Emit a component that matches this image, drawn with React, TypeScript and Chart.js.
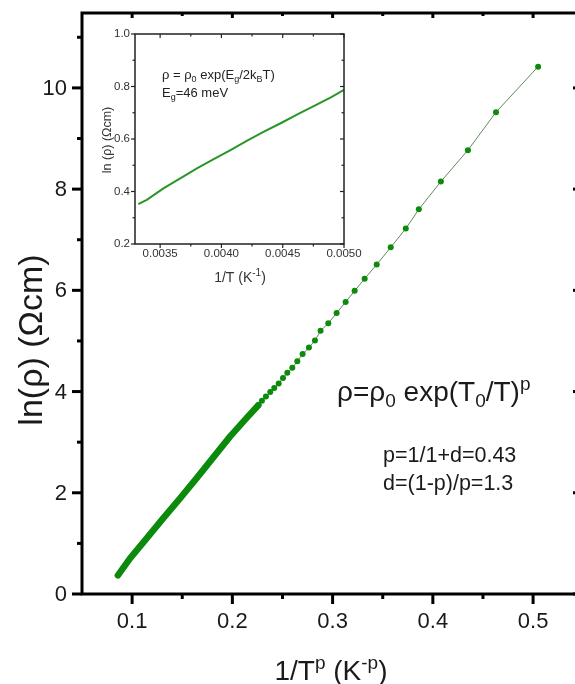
import React, { useEffect, useRef } from "react";
import { Chart, registerables } from "chart.js";
Chart.register(...registerables);

// ---------------- data: main plot ----------------
const xMajorTicks = [0.1, 0.2, 0.3, 0.4, 0.5];
const xMinorTicks = [0.15, 0.25, 0.35, 0.45];
const yMajorTicks = [0, 2, 4, 6, 8, 10];
const yMinorTicks = [1, 3, 5, 7, 9, 11];

// dense (overlapping markers) part of the curve
const denseX = [0.0858, 0.0979, 0.1145, 0.1311, 0.1478, 0.1644, 0.181, 0.1976, 0.2143, 0.2259];
const denseY = [0.37, 0.705, 1.1, 1.5, 1.89, 2.29, 2.7, 3.11, 3.48, 3.73];

// separated markers
const sparseX = [
  0.2259, 0.2295, 0.2335, 0.2378, 0.2418, 0.2462, 0.2505, 0.2548, 0.2598, 0.2648,
  0.2701, 0.2764, 0.2824, 0.288, 0.2957, 0.304, 0.313, 0.322, 0.332, 0.344,
  0.358, 0.373, 0.386, 0.408, 0.435, 0.463, 0.505,
];
const sparseY = [
  3.73, 3.82, 3.9, 3.99, 4.07, 4.16, 4.27, 4.37, 4.47, 4.6,
  4.74, 4.87, 5.01, 5.2, 5.35, 5.55, 5.77, 5.99, 6.23, 6.51,
  6.85, 7.22, 7.6, 8.15, 8.77, 9.52, 10.42,
];

// ---------------- data: inset ----------------
const insetX = [
  0.003322, 0.003391, 0.003527, 0.003664, 0.0038, 0.003937, 0.004074,
  0.00421, 0.004347, 0.004483, 0.00462, 0.004757, 0.004893, 0.005,
];
const insetY = [0.352, 0.368, 0.412, 0.45, 0.488, 0.523, 0.558, 0.594, 0.628, 0.66, 0.694, 0.726, 0.759, 0.787];
const insetXMajor = [0.0035, 0.004, 0.0045, 0.005];
const insetXMinor = [0.00375, 0.00425, 0.00475];
const insetYMajor = [0.2, 0.4, 0.6, 0.8, 1.0];
const insetYMinor = [0.3, 0.5, 0.7, 0.9];

const FONT = '"Liberation Sans", Arial, Helvetica, sans-serif';
const TEXT = "#1a1a1a";
const GREEN = "#0b8a0b";

type Seg = { t: string; s?: "sub" | "sup" };

function segFont(size: number, s?: string) {
  return `${s ? Math.round(size * 0.68) : size}px ${FONT}`;
}
function richWidth(ctx: CanvasRenderingContext2D, segs: Seg[], size: number) {
  let w = 0;
  for (const g of segs) {
    ctx.font = segFont(size, g.s);
    w += ctx.measureText(g.t).width;
  }
  return w;
}
function drawRich(
  ctx: CanvasRenderingContext2D,
  segs: Seg[],
  x: number,
  y: number,
  size: number,
  align: "left" | "center" = "left"
) {
  let cx = align === "center" ? x - richWidth(ctx, segs, size) / 2 : x;
  ctx.textAlign = "left";
  ctx.textBaseline = "alphabetic";
  for (const g of segs) {
    ctx.font = segFont(size, g.s);
    const dy = g.s === "sub" ? size * 0.22 : g.s === "sup" ? -size * 0.4 : 0;
    ctx.fillText(g.t, cx, y + dy);
    cx += ctx.measureText(g.t).width;
  }
}

const mainFrame = {
  id: "mainFrame",
  afterDraw(chart: any) {
    const { ctx, chartArea, scales } = chart;
    const { left, right, top, bottom } = chartArea;
    const sx = scales.x, sy = scales.y;
    ctx.save();
    ctx.strokeStyle = "#000";
    ctx.lineWidth = 3;
    ctx.strokeRect(left, top, right - left, bottom - top);
    ctx.lineCap = "butt";
    const line = (x1: number, y1: number, x2: number, y2: number) => {
      ctx.beginPath();
      ctx.moveTo(x1, y1);
      ctx.lineTo(x2, y2);
      ctx.stroke();
    };
    ctx.lineWidth = 3;
    for (const v of xMajorTicks) {
      const px = sx.getPixelForValue(v);
      line(px, bottom, px, bottom + 10);
      line(px, top, px, top + 5);
    }
    for (const v of xMinorTicks) {
      const px = sx.getPixelForValue(v);
      line(px, bottom, px, bottom + 5);
      line(px, top, px, top + 3);
    }
    for (const v of yMajorTicks) {
      const py = sy.getPixelForValue(v);
      line(left - 10, py, left, py);
      line(right - 6, py, right, py);
    }
    for (const v of yMinorTicks) {
      const py = sy.getPixelForValue(v);
      line(left - 5, py, left, py);
      line(right - 3, py, right, py);
    }
    // tick labels
    ctx.fillStyle = TEXT;
    ctx.font = `22px ${FONT}`;
    ctx.textAlign = "center";
    ctx.textBaseline = "middle";
    for (const v of xMajorTicks) {
      ctx.fillText(v.toFixed(1), sx.getPixelForValue(v), 622);
    }
    ctx.textAlign = "right";
    for (const v of yMajorTicks) {
      ctx.fillText(String(v), 67, sy.getPixelForValue(v) + 1);
    }
    // axis titles
    ctx.save();
    ctx.translate(42, 340);
    ctx.rotate(-Math.PI / 2);
    ctx.font = `34px ${FONT}`;
    ctx.textAlign = "center";
    ctx.textBaseline = "alphabetic";
    ctx.fillText("ln(\u03c1) (\u03a9cm)", 0, 0);
    ctx.restore();
    drawRich(
      ctx,
      [{ t: "1/T" }, { t: "p", s: "sup" }, { t: " (K" }, { t: "-p", s: "sup" }, { t: ")" }],
      331,
      680,
      28,
      "center"
    );
    // annotations
    drawRich(
      ctx,
      [
        { t: "\u03c1=\u03c1" },
        { t: "0", s: "sub" },
        { t: " exp(T" },
        { t: "0", s: "sub" },
        { t: "/T)" },
        { t: "p", s: "sup" },
      ],
      337,
      401,
      28
    );
    drawRich(ctx, [{ t: "p=1/1+d=0.43" }], 383, 462, 21.5);
    drawRich(ctx, [{ t: "d=(1-p)/p=1.3" }], 383, 490, 21.5);
    ctx.restore();
  },
};

const insetFrame = {
  id: "insetFrame",
  afterDraw(chart: any) {
    const { ctx, chartArea, scales } = chart;
    const { left, right, top, bottom } = chartArea;
    const sx = scales.x, sy = scales.y;
    ctx.save();
    ctx.strokeStyle = "#222";
    ctx.lineWidth = 1.5;
    ctx.strokeRect(left, top, right - left, bottom - top);
    const line = (x1: number, y1: number, x2: number, y2: number) => {
      ctx.beginPath();
      ctx.moveTo(x1, y1);
      ctx.lineTo(x2, y2);
      ctx.stroke();
    };
    ctx.lineWidth = 1.2;
    for (const v of insetXMajor) {
      const px = sx.getPixelForValue(v);
      line(px, bottom, px, bottom + 4);
      line(px, top, px, top + 4);
    }
    for (const v of insetXMinor) {
      const px = sx.getPixelForValue(v);
      line(px, bottom, px, bottom + 2.5);
      line(px, top, px, top + 2.5);
    }
    for (const v of insetYMajor) {
      const py = sy.getPixelForValue(v);
      line(left - 4, py, left, py);
      line(right - 4, py, right, py);
    }
    for (const v of insetYMinor) {
      const py = sy.getPixelForValue(v);
      line(left - 2.5, py, left, py);
      line(right - 2.5, py, right, py);
    }
    ctx.fillStyle = "#333";
    ctx.font = `11.5px ${FONT}`;
    ctx.textAlign = "center";
    ctx.textBaseline = "middle";
    for (const v of insetXMajor) {
      ctx.fillText(v.toFixed(4), sx.getPixelForValue(v), 254);
    }
    ctx.textAlign = "right";
    for (const v of insetYMajor) {
      ctx.fillText(v.toFixed(1), left - 5, sy.getPixelForValue(v));
    }
    ctx.save();
    ctx.translate(111, 140);
    ctx.rotate(-Math.PI / 2);
    ctx.font = `12.5px ${FONT}`;
    ctx.textAlign = "center";
    ctx.textBaseline = "alphabetic";
    ctx.fillText("ln (\u03c1) (\u03a9cm)", 0, 0);
    ctx.restore();
    drawRich(ctx, [{ t: "1/T (K" }, { t: "-1", s: "sup" }, { t: ")" }], 240, 282, 14, "center");
    ctx.fillStyle = "#222";
    drawRich(
      ctx,
      [
        { t: "\u03c1 = \u03c1" },
        { t: "0", s: "sub" },
        { t: " exp(E" },
        { t: "g", s: "sub" },
        { t: "/2k" },
        { t: "B", s: "sub" },
        { t: "T)" },
      ],
      162,
      79,
      13
    );
    drawRich(ctx, [{ t: "E" }, { t: "g", s: "sub" }, { t: "=46 meV" }], 162, 97, 13);
    ctx.restore();
  },
};

export default function App() {
  const mainRef = useRef<HTMLCanvasElement>(null);
  const insetRef = useRef<HTMLCanvasElement>(null);

  useEffect(() => {
    const dense = denseX.map((x, i) => ({ x, y: denseY[i] }));
    const sparse = sparseX.map((x, i) => ({ x, y: sparseY[i] }));
    const inset = insetX.map((x, i) => ({ x, y: insetY[i] }));

    const main = new Chart(mainRef.current!, {
      type: "scatter",
      data: {
        datasets: [
          {
            data: dense,
            showLine: true,
            borderColor: GREEN,
            borderWidth: 6.5,
            borderCapStyle: "round",
            borderJoinStyle: "round",
            pointRadius: 0,
          } as any,
          {
            data: sparse,
            showLine: true,
            borderColor: "#5e8a5e",
            borderWidth: 1,
            pointRadius: 3,
            pointBackgroundColor: GREEN,
            pointBorderWidth: 0,
          } as any,
        ],
      },
      options: {
        responsive: false,
        animation: false,
        devicePixelRatio: 1,
        events: [],
        layout: { padding: { left: 82, top: 13, right: 600 - 579, bottom: 684 - 594 } },
        scales: {
          x: { type: "linear", min: 0.05, max: 0.5458, display: false },
          y: { type: "linear", min: 0, max: 11.48, display: false },
        },
        plugins: { legend: { display: false }, tooltip: { enabled: false } },
      },
      plugins: [mainFrame],
    });

    const ins = new Chart(insetRef.current!, {
      type: "scatter",
      data: {
        datasets: [
          {
            data: inset,
            showLine: true,
            borderColor: "#2a952a",
            borderWidth: 2,
            pointRadius: 0,
          } as any,
        ],
      },
      options: {
        responsive: false,
        animation: false,
        devicePixelRatio: 1,
        events: [],
        layout: { padding: { left: 135, top: 34, right: 575 - 344, bottom: 684 - 244 } },
        scales: {
          x: { type: "linear", min: 0.003295, max: 0.005, display: false },
          y: { type: "linear", min: 0.2, max: 1.0, display: false },
        },
        plugins: { legend: { display: false }, tooltip: { enabled: false } },
      },
      plugins: [insetFrame],
    });

    return () => {
      main.destroy();
      ins.destroy();
    };
  }, []);

  return (
    <div
      style={{
        position: "fixed",
        left: 0,
        top: 0,
        width: 575,
        height: 684,
        overflow: "hidden",
        background: "#fff",
      }}
    >
      <canvas
        ref={mainRef}
        width={600}
        height={684}
        style={{ position: "absolute", left: 0, top: 0, width: 600, height: 684 }}
      />
      <canvas
        ref={insetRef}
        width={575}
        height={684}
        style={{ position: "absolute", left: 0, top: 0, width: 575, height: 684 }}
      />
    </div>
  );
}
